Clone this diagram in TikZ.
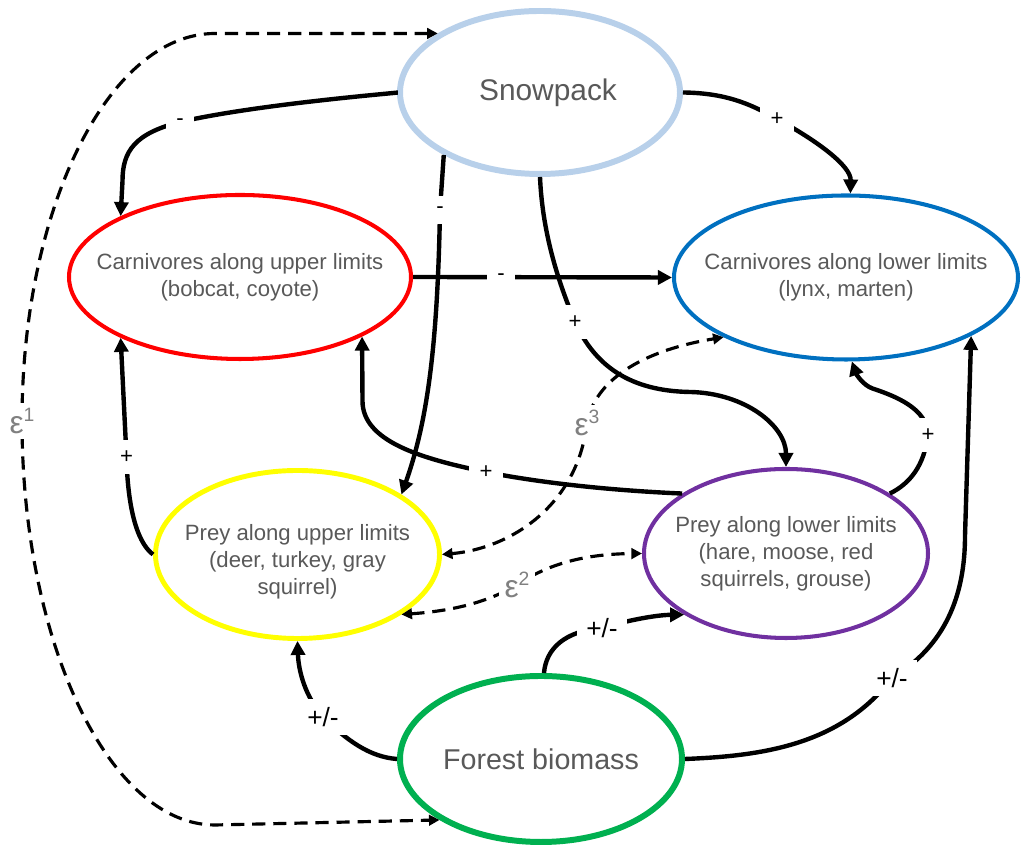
\documentclass[tikz,border=0pt]{standalone}
\usepackage{fontspec}
\setmainfont{Liberation Sans}
\usetikzlibrary{shapes.geometric,arrows.meta}
\definecolor{snowblue}{RGB}{184,208,234}
\definecolor{carnred}{RGB}{255,0,0}
\definecolor{carnblue}{RGB}{0,112,192}
\definecolor{preyyellow}{RGB}{255,255,0}
\definecolor{preypurple}{RGB}{112,48,160}
\definecolor{forestgreen}{RGB}{0,176,80}
\definecolor{txtgray}{RGB}{89,89,89}
\definecolor{epsgray}{RGB}{128,128,128}
\newcommand{\epsup}[1]{ε\raisebox{0.75ex}{\fontsize{11}{11}\selectfont #1}}

\begin{document}
\begin{tikzpicture}[
    oval/.style={ellipse, draw, fill=white, inner sep=0pt},
    names/.style={text=txtgray, align=center, font=\fontsize{12.6}{15.3}\selectfont},
    big/.style={text=txtgray, font=\fontsize{17}{20}\selectfont},
    link/.style={line width=2.5pt, -{Triangle[length=8pt,width=8pt]}},
    eps/.style={line width=1.8pt, dash pattern=on 7.5pt off 4.5pt,
      {Triangle[length=6pt,width=6pt]}-{Triangle[length=6pt,width=6pt]}},
    sign/.style={fill=white, inner sep=6pt, font=\fontsize{12.6}{14}\selectfont},
    pm/.style={fill=white, inner sep=5pt, font=\fontsize{15}{17}\selectfont},
    epslbl/.style={fill=white, inner sep=3pt, text=epsgray, font=\fontsize{18}{20}\selectfont}
  ]
  \useasboundingbox (0,0) rectangle (20.54,16.92);

  \node[oval, draw=snowblue, line width=3.4pt, minimum width=5.6cm, minimum height=3.26cm,
    label={[big, xshift=0.16cm]center:Snowpack}] (snow) at (10.80,15.07) {};
  \node[oval, draw=carnred, line width=2.3pt, minimum width=6.84cm, minimum height=3.28cm,
    label={[names]center:{Carnivores along upper limits\\(bobcat, coyote)}}] (cu) at (4.80,11.38) {};
  \node[oval, draw=carnblue, line width=2.3pt, minimum width=6.88cm, minimum height=3.28cm,
    label={[names]center:{Carnivores along lower limits\\(lynx, marten)}}] (cl) at (16.92,11.37) {};
  \node[oval, draw=preyyellow, line width=2.8pt, minimum width=5.68cm, minimum height=3.36cm,
    label={[names, yshift=-0.15cm]center:{Prey along upper limits\\(deer, turkey, gray\\squirrel)}}] (pu) at (5.95,5.83) {};
  \node[oval, draw=preypurple, line width=2.3pt, minimum width=5.68cm, minimum height=3.38cm,
    label={[names]center:{Prey along lower limits\\(hare, moose, red\\squirrels, grouse)}}] (pl) at (15.72,5.85) {};
  \node[oval, draw=forestgreen, line width=3.4pt, minimum width=5.64cm, minimum height=3.32cm,
    label={[big, font=\fontsize{16.3}{19}\selectfont]center:Forest biomass}] (forest) at (10.82,1.74) {};

  \draw[eps] (snow.150) -- (4.3,16.25) .. controls (2.17,16.25) and (0.44,12.75) .. (0.44,8.5)
    node[epslbl] {\epsup{1}} .. controls (0.44,4.1) and (2.17,0.42) .. (4.3,0.42) -- (forest.211);
  \draw[link] (snow.west) .. controls (8.2,15.08) and (5.2,14.85) .. (3.6,14.48) node[sign] {-}
    .. controls (2.7,14.25) and (2.45,13.9) .. (2.45,13.3) -- (cu.153);
  \draw[link] (snow.213) -- (8.8,12.72) node[sign] {-} .. controls (8.75,10.0) and (8.55,8.5) .. (pu.30);
  \draw[link] (snow.east) .. controls (14.5,15.06) and (15.0,14.85) .. (15.54,14.54) node[sign] {+}
    .. controls (16.35,14.1) and (17.02,13.6) .. (cl.87);
  \draw[link] (snow.south) .. controls (10.85,12.2) and (11.2,11.2) .. (11.5,10.48) node[sign] {+}
    .. controls (11.9,9.6) and (12.6,9.1) .. (13.8,9.08) .. controls (14.9,9.06) and (15.72,8.4) .. (pl.north);
  \draw[link] (cu.east) -- node[sign, pos=0.34] {-} (cl.west);
  \draw[link] (pu.west) .. controls (2.7,6.1) and (2.55,6.9) .. (2.53,7.78) node[sign] {+} -- (cu.207);
  \draw[link] (pl.150) .. controls (12.0,7.12) and (10.6,7.3) .. (9.72,7.48) node[sign] {+}
    .. controls (8.4,7.75) and (7.25,8.1) .. (7.25,8.9) -- (cu.334);
  \draw[link] (pl.30) .. controls (18.2,7.25) and (18.48,7.6) .. (18.56,8.22) node[sign] {+}
    .. controls (18.55,8.75) and (17.9,9.0) .. (17.45,9.15) .. controls (17.25,9.22) and (17.12,9.45) .. (cl.274);
  \draw[link] (forest.west) .. controls (7.4,1.78) and (6.95,2.1) .. (6.46,2.58) node[pm] {+/-}
    .. controls (6.1,3.0) and (5.97,3.5) .. (pu.south);
  \draw[link] (forest.88) .. controls (10.92,3.95) and (11.3,4.3) .. (12.04,4.36) node[pm] {+/-}
    .. controls (12.5,4.5) and (13.1,4.62) .. (pl.211);
  \draw[link] (forest.east) .. controls (15.2,1.8) and (16.8,2.0) .. (17.84,3.36) node[pm] {+/-}
    .. controls (18.9,4.0) and (19.3,5.0) .. (19.3,6.2) -- (cl.335);
  \draw[eps] (pu.330) .. controls (9.0,4.7) and (9.7,4.85) .. (10.34,5.22) node[epslbl] {\epsup{2}}
    .. controls (10.9,5.6) and (11.6,5.84) .. (pl.west);
  \draw[eps] (pu.east) .. controls (10.2,5.95) and (11.55,6.8) .. (11.74,8.46) node[epslbl] {\epsup{3}}
    .. controls (11.9,9.3) and (12.8,9.9) .. (cl.206);
\end{tikzpicture}
\end{document}
